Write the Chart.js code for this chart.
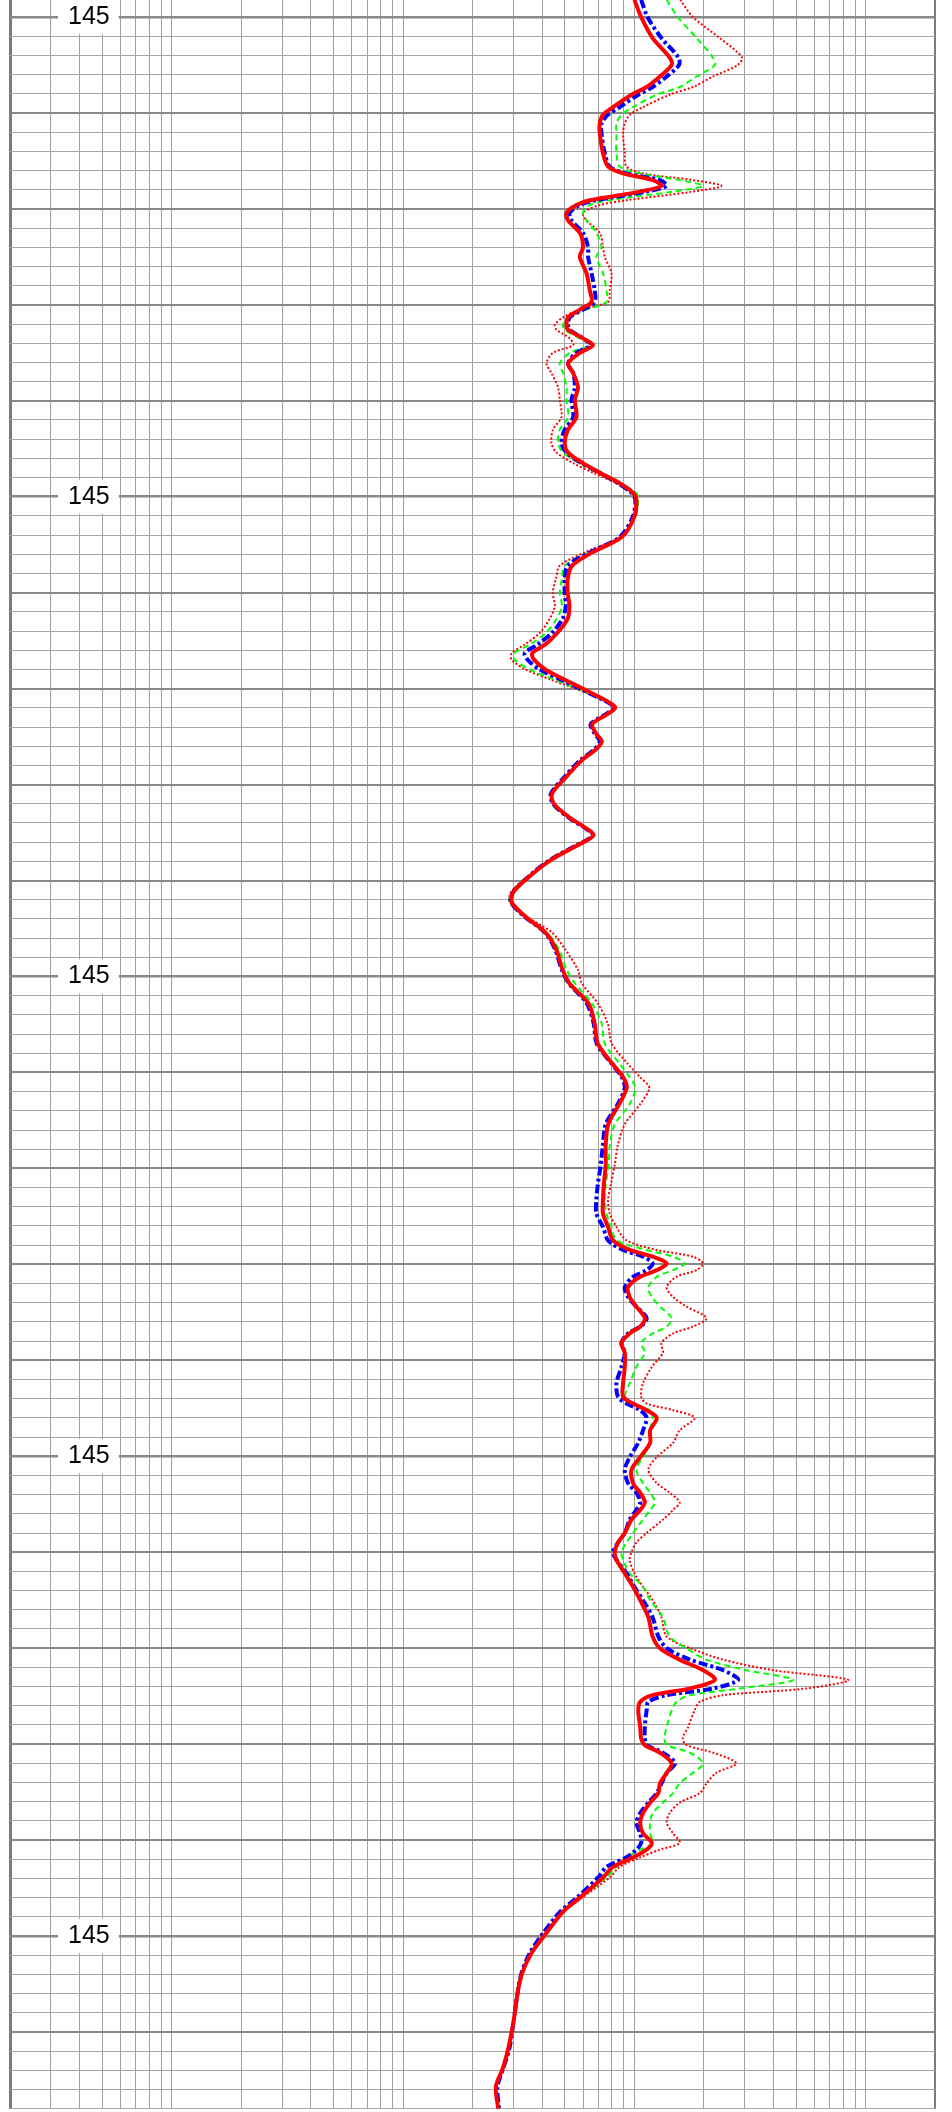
<!DOCTYPE html>
<html>
<head>
<meta charset="utf-8">
<script src="https://cdn.jsdelivr.net/npm/chart.js@4/dist/chart.umd.min.js"></script>
<style>
html,body{margin:0;padding:0;background:#ffffff;}
#wrap{width:952px;height:2112px;position:relative;}
canvas{display:block;}
</style>
</head>
<body>
<div id="wrap"><canvas id="c" width="952" height="2112"></canvas></div>
<script>
// depth (m), top to bottom
const depth = [
1449.82,1450.00,1450.22,1450.42,1450.50,1450.62,1450.73,1450.81,1450.94,1451.02,
1451.11,1451.21,1451.42,1451.56,1451.63,1451.70,1451.76,1451.82,1451.91,1451.96,
1452.04,1452.12,1452.25,1452.40,1452.50,1452.67,1452.85,1452.97,1453.05,1453.13,
1453.21,1453.26,1453.35,1453.42,1453.50,1453.61,1453.71,1453.86,1453.99,1454.17,
1454.30,1454.44,1454.54,1454.65,1454.75,1454.86,1454.96,1455.03,1455.21,1455.42,
1455.58,1455.72,1455.86,1456.00,1456.14,1456.27,1456.42,1456.54,1456.63,1456.70,
1456.80,1456.91,1457.05,1457.19,1457.26,1457.37,1457.47,1457.55,1457.63,1457.75,
1457.93,1458.10,1458.21,1458.36,1458.45,1458.53,1458.64,1458.78,1458.94,1459.11,
1459.22,1459.37,1459.54,1459.71,1459.93,1460.07,1460.28,1460.49,1460.70,1460.91,
1461.05,1461.16,1461.33,1461.54,1461.76,1461.96,1462.17,1462.33,1462.47,1462.61,
1462.75,1462.85,1462.92,1462.99,1463.06,1463.13,1463.24,1463.34,1463.44,1463.56,
1463.65,1463.72,1463.82,1463.92,1464.07,1464.24,1464.38,1464.45,1464.52,1464.60,
1464.73,1464.86,1465.01,1465.14,1465.28,1465.38,1465.48,1465.56,1465.66,1465.80,
1465.90,1466.00,1466.08,1466.22,1466.36,1466.50,1466.68,1466.88,1467.00,1467.12,
1467.23,1467.33,1467.42,1467.49,1467.56,1467.65,1467.82,1467.94,1468.01,1468.09,
1468.20,1468.30,1468.41,1468.51,1468.61,1468.72,1468.82,1468.93,1469.03,1469.10,
1469.18,1469.28,1469.39,1469.61,1469.75,1469.99,1470.18,1470.39,1470.59,1470.88,
1471.16,1471.37,1471.57,1471.80
];
// red solid curve (ohm.m)
const curveRedSolid = [
100,107,120,142,145,129,113,97.2,80.9,73.2,
70.9,70.9,73.2,77.0,89.4,120,131,106,64.2,56.2,
50.9,51.7,58.1,60.0,58.1,62.1,64.2,65.3,58.1,51.7,
50.9,51.7,60.0,66.3,58.1,51.7,54.4,57.1,55.3,56.2,
51.7,50.0,51.7,60.0,70.9,86.5,98.7,102,99.9,88.3,
65.8,53.7,51.5,51.5,52.4,51.5,46.4,41.2,36.2,36.9,
41.2,50.3,65.8,82.6,77.1,65.8,68.4,72.3,68.4,59.1,
50.3,44.0,45.2,53.7,61.5,66.6,56.0,44.0,35.9,30.2,
29.4,33.6,41.2,45.8,49.0,52.4,63.3,67.4,69.5,80.4,
89.5,92.7,86.0,77.1,75.2,75.2,73.8,73.2,73.2,77.0,
80.9,95.5,120,138,125,106,93.9,95.5,102,111,
106,95.5,87.9,90.9,90.9,89.4,89.4,98.7,113,125,
117,117,106,97.2,98.7,106,111,106,97.2,90.9,
85.0,82.3,83.7,90.9,98.7,106,115,120,129,157,
198,223,174,120,106,104,106,107,111,129,
145,138,129,127,117,109,106,109,119,113,
98.7,80.9,73.2,57.5,49.0,41.0,35.9,32.7,31.3,30.1,
28.6,27.1,25.2,25.8
];
// blue dash-dot curve
const curveBlue = [
107,114,131,155,156,138,120,104,86.5,76.8,
72.1,72.1,74.5,78.3,92.5,129,138,113,68.5,58.1,
52.6,53.5,60.0,63.1,63.1,65.3,67.4,67.4,60.0,52.6,
51.7,52.6,60.0,65.3,56.2,51.7,54.4,55.3,53.5,54.4,
50.0,48.4,50.9,59.1,70.9,85.0,97.2,101,98.4,86.5,
64.2,51.5,50.0,50.0,50.5,49.0,44.0,38.2,33.6,34.6,
39.0,48.6,64.2,81.6,75.9,64.8,67.4,70.9,67.4,58.1,
49.5,43.5,44.8,53.1,61.0,66.1,55.3,43.5,35.6,30.1,
29.2,33.3,41.0,45.3,48.6,52.1,62.3,66.7,68.8,79.9,
88.3,90.9,84.8,75.2,73.1,71.6,69.5,68.5,68.5,73.2,
77.0,89.4,109,120,113,98.7,90.9,93.9,102,113,
106,93.9,87.9,90.9,87.9,83.7,85.0,92.5,106,113,
109,104,95.5,90.9,93.9,102,106,102,95.5,90.9,
85.0,80.9,83.7,92.5,100,109,120,127,138,174,
242,281,219,138,115,113,111,111,113,133,
150,138,131,125,115,106,102,106,107,102,
92.5,75.8,69.7,55.9,47.6,39.8,35.3,32.5,31.3,30.1,
28.9,27.2,25.6,26.0
];
// green dashed curve
const curveGreen = [
138,154,186,218,223,186,157,125,98.7,87.9,
83.7,83.7,83.7,86.5,106,157,198,147,78.3,64.2,
60.0,62.1,68.5,72.1,68.5,73.2,75.8,75.8,62.1,51.7,
49.2,50.0,58.1,64.2,52.6,47.6,49.2,50.9,50.9,51.7,
47.6,46.8,49.2,58.1,69.7,86.5,102,104,101,88.3,
62.9,50.0,48.6,47.6,48.6,46.2,41.4,35.3,30.4,30.4,
35.3,45.8,62.9,82.3,76.8,65.5,68.1,71.6,68.1,58.7,
50.0,44.0,45.3,53.7,61.6,66.7,55.9,44.0,35.6,29.8,
28.9,33.3,41.8,47.1,51.0,55.3,65.5,72.3,74.5,86.5,
95.5,101,95.5,82.3,78.3,77.5,75.2,74.5,75.8,79.6,
83.7,113,147,165,147,125,115,119,129,145,
138,120,107,111,102,95.5,90.9,95.5,117,120,
117,117,109,102,109,117,123,117,109,98.7,
92.5,87.9,89.4,95.5,109,117,133,142,168,205,
305,486,286,174,152,145,138,135,138,174,
198,179,157,147,133,120,117,117,120,106,
92.5,83.7,75.8,58.1,49.0,41.0,35.9,32.5,31.3,30.1,
28.6,27.1,25.2,25.8
];
// red dotted curve
const curveRedDotted = [
158,179,234,292,280,219,179,142,109,95.5,
90.9,89.4,90.9,92.5,109,179,238,179,92.5,70.9,
60.0,62.1,70.9,73.2,74.5,79.6,78.3,77.0,58.1,49.2,
45.3,46.1,52.6,54.4,44.5,41.7,43.8,46.8,47.6,48.4,
44.5,43.8,46.1,54.4,66.3,83.7,98.4,102,101,86.5,
61.0,47.6,45.8,44.4,45.3,43.1,39.0,33.6,29.5,29.5,
33.9,44.0,62.9,82.3,76.8,65.5,68.1,71.6,68.1,58.7,
50.0,44.0,45.3,53.7,61.6,66.7,55.9,44.0,35.6,29.5,
28.9,33.9,44.0,50.0,57.0,59.3,69.5,76.8,79.9,93.7,
106,116,106,90.9,84.8,82.3,79.1,77.0,78.3,83.7,
92.5,125,179,198,186,152,138,147,168,205,
179,147,131,133,119,109,107,113,147,182,
157,147,125,115,125,142,157,147,133,113,
102,97.2,95.5,100,109,120,131,138,174,242,
398,840,555,242,192,182,171,162,168,219,
276,226,205,192,157,142,138,147,157,129,
106,86.5,78.3,58.7,49.5,41.0,35.9,32.5,31.3,30.1,
28.6,27.1,25.2,25.8
];
// depth axis labels
const depthLabelValues = [1450, 1455, 1460, 1465, 1470];
const depthLabelText = ['145', '145', '145', '145', '145'];
// log grid values on the resistivity axis
const xGridValues = [
0.2,0.3,0.4,0.5,0.6,0.7,0.8,0.9,
1,2,3,4,5,6,7,8,9,
10,20,30,40,50,60,70,80,90,
100,200,300,400,500,600,700,800,900,
1000,2000
];
const xMin = 0.2, xMax = 2000;
const depthTop = 1449.823, depthBottom = 1471.803;
const depthGridStart = 1450.0, depthGridStep = 0.2;

function pts(arr) { return arr.map((v, i) => ({ x: v, y: depth[i] })); }
function near(a, b) { return Math.abs(a - b) < 1e-6; }
function isMultiple(v, m) { return Math.abs(v / m - Math.round(v / m)) < 1e-6; }
function labelIndex(v) { return depthLabelValues.findIndex(d => near(d, v)); }

const baseLine = { pointRadius: 0, pointHoverRadius: 0, showLine: true, fill: false, tension: 0.3 };

new Chart(document.getElementById('c'), {
  type: 'scatter',
  data: {
    datasets: [
      Object.assign({ label: 'Red solid', data: pts(curveRedSolid), borderColor: '#ff0000', borderWidth: 4 }, baseLine),
      Object.assign({ label: 'Blue', data: pts(curveBlue), borderColor: '#0000ff', borderWidth: 4, borderDash: [9, 3, 3, 3] }, baseLine),
      Object.assign({ label: 'Green', data: pts(curveGreen), borderColor: '#00ff00', borderWidth: 2, borderDash: [6, 4] }, baseLine),
      Object.assign({ label: 'Red dotted', data: pts(curveRedDotted), borderColor: '#ff0000', borderWidth: 2, borderDash: [2, 2] }, baseLine)
    ]
  },
  options: {
    responsive: false,
    maintainAspectRatio: false,
    devicePixelRatio: 1,
    animation: false,
    events: [],
    layout: { padding: { left: 10, right: 16.7, top: 0, bottom: 3 } },
    plugins: { legend: { display: false }, tooltip: { enabled: false }, title: { display: false } },
    scales: {
      x: {
        type: 'logarithmic',
        position: 'bottom',
        min: xMin,
        max: xMax,
        afterBuildTicks: (scale) => { scale.ticks = xGridValues.map(v => ({ value: v })); },
        afterFit: (scale) => { scale.height = 0; scale.paddingLeft = 0; scale.paddingRight = 0; },
        ticks: { display: false, autoSkip: false },
        border: { display: false },
        grid: {
          drawTicks: false,
          color: (ctx) => (near(ctx.tick.value, xMin) || near(ctx.tick.value, xMax)) ? '#7a7a7a' : '#a0a0a0',
          lineWidth: (ctx) => near(ctx.tick.value, xMin) ? 3 : (near(ctx.tick.value, xMax) ? 2 : 1)
        }
      },
      y: {
        type: 'linear',
        position: 'left',
        reverse: true,
        min: depthTop,
        max: depthBottom,
        afterBuildTicks: (scale) => {
          const t = [];
          for (let k = 0; ; k++) {
            const v = Math.round((depthGridStart + k * depthGridStep) * 10) / 10;
            if (v > depthBottom + 1e-6) break;
            t.push({ value: v });
          }
          scale.ticks = t;
        },
        afterFit: (scale) => { scale.width = 0; scale.paddingTop = 0; scale.paddingBottom = 0; },
        border: { display: false },
        grid: {
          drawTicks: false,
          color: (ctx) => isMultiple(ctx.tick.value, 1) ? '#888888' : '#a6a6a6',
          lineWidth: (ctx) => isMultiple(ctx.tick.value, 5) ? 2.5 : (isMultiple(ctx.tick.value, 1) ? 2 : 1)
        },
        ticks: {
          autoSkip: false,
          mirror: true,
          padding: 58,
          crossAlign: 'near',
          color: '#000000',
          font: { family: '"Liberation Sans", Arial, sans-serif', size: 25 },
          callback: (value) => { const i = labelIndex(value); return i >= 0 ? depthLabelText[i] : ''; },
          showLabelBackdrop: (ctx) => labelIndex(ctx.tick.value) >= 0,
          backdropColor: '#ffffff',
          backdropPadding: { top: 2, bottom: 2, left: 10, right: 9 }
        }
      }
    }
  }
});
</script>
</body>
</html>
